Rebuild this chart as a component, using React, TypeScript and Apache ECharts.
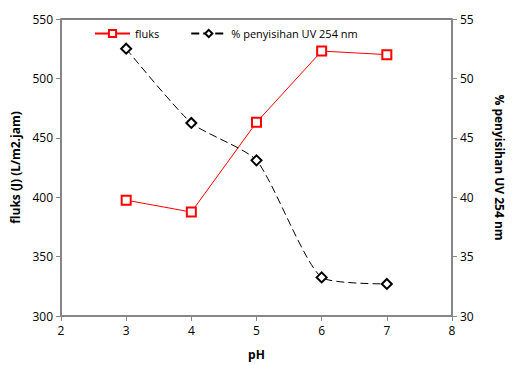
import React, { useEffect, useRef } from "react";
import * as echarts from "echarts";

const pH = [3, 4, 5, 6, 7];
const fluks = [397.5, 387.5, 463, 523, 520];
const removal = [52.5, 46.25, 43.1, 33.25, 32.7];
const fluksTicks = { min: 300, max: 550, interval: 50 };
const removalTicks = { min: 30, max: 55, interval: 5 };
const pHTicks = { min: 2, max: 8, interval: 1 };

export default function App() {
  const ref = useRef<HTMLDivElement>(null);
  useEffect(() => {
    document.body.style.margin = "0";
    const chart = echarts.init(ref.current!, null, { renderer: "svg" });
    const font = "'Open Sans', 'Noto Sans', sans-serif";
    const axisLine = { show: true, lineStyle: { color: "#868686", width: 2 } };
    chart.setOption({
      animation: false,
      textStyle: { fontFamily: font },
      grid: {
        left: 61,
        right: 56,
        top: 19,
        bottom: 46,
        show: true,
        borderColor: "#000",
        borderWidth: 1,
      },
      legend: {
        left: 94,
        top: 28,
        padding: 0,
        itemWidth: 35,
        itemHeight: 9,
        itemGap: 31,
        textStyle: { fontSize: 11, color: "#000", fontFamily: font },
        data: ["fluks", "% penyisihan UV 254 nm"],
      },
      xAxis: {
        type: "value",
        ...pHTicks,
        name: "pH",
        nameLocation: "middle",
        nameGap: 32,
        nameTextStyle: { fontWeight: "bold", fontSize: 12, color: "#000" },
        axisLine,
        axisTick: { show: true, length: 5, lineStyle: { color: "#868686" } },
        axisLabel: { fontSize: 12, color: "#000", margin: 8 },
        splitLine: { show: false },
      },
      yAxis: [
        {
          type: "value",
          ...fluksTicks,
          name: "fluks (J) (L/m2.jam)",
          nameLocation: "middle",
          nameGap: 40,
          nameTextStyle: { fontWeight: "bold", fontSize: 12, color: "#000" },
          axisLine,
          axisTick: { show: true, length: 5, lineStyle: { color: "#868686" } },
          axisLabel: { fontSize: 12, color: "#000", margin: 8 },
          splitLine: { show: false },
        },
        {
          type: "value",
          ...removalTicks,
          position: "right",
          name: "% penyisihan UV 254 nm",
          nameLocation: "middle",
          nameGap: 41,
          nameRotate: -90,
          nameTextStyle: { fontWeight: "bold", fontSize: 12, color: "#000" },
          axisLine,
          axisTick: { show: true, length: 5, lineStyle: { color: "#868686" } },
          axisLabel: { fontSize: 12, color: "#000", margin: 8 },
          splitLine: { show: false },
        },
      ],
      series: [
        {
          name: "fluks",
          type: "line",
          yAxisIndex: 0,
          data: pH.map((x, i) => [x, fluks[i]]),
          symbol: "rect",
          symbolSize: 9,
          itemStyle: { color: "#fff", borderColor: "#ff0000", borderWidth: 2 },
          lineStyle: { color: "#ff0000", width: 1 },
        },
        {
          name: "% penyisihan UV 254 nm",
          type: "line",
          yAxisIndex: 1,
          smooth: 0.2,
          data: pH.map((x, i) => [x, removal[i]]),
          symbol: "diamond",
          symbolSize: 10,
          itemStyle: { color: "#fff", borderColor: "#000", borderWidth: 2 },
          lineStyle: { color: "#000", width: 1, type: [8, 4] },
        },
      ],
    });
    return () => chart.dispose();
  }, []);
  return <div ref={ref} style={{ width: 513, height: 365 }} />;
}
